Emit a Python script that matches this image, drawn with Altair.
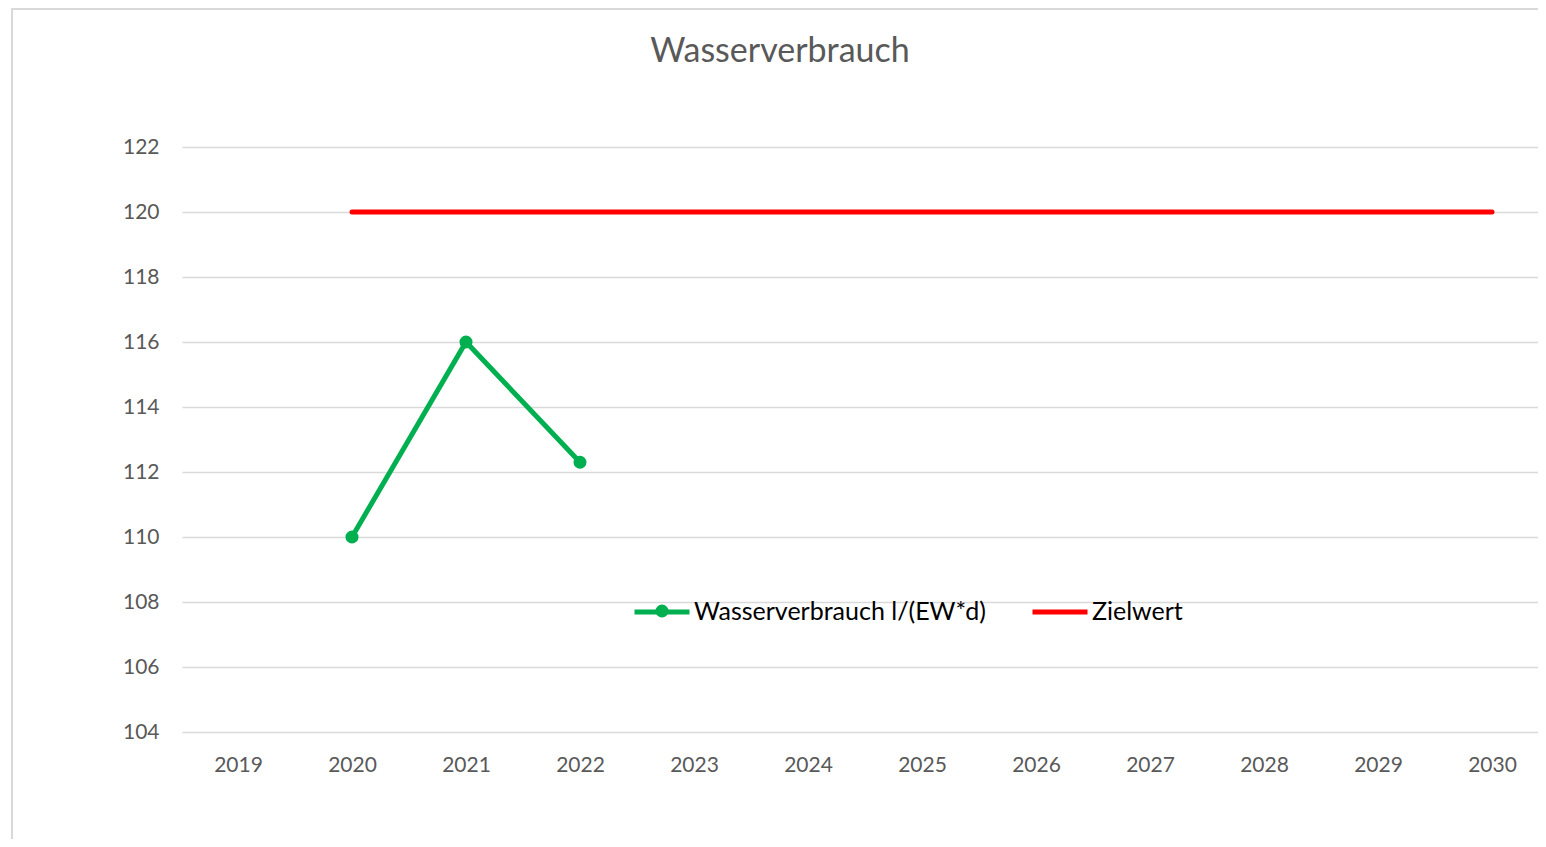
import altair as alt
import pandas as pd

years = ["2019", "2020", "2021", "2022", "2023", "2024", "2025", "2026", "2027", "2028", "2029", "2030"]
verbrauch_years = ["2020", "2021", "2022"]
verbrauch_values = [110.0, 116.0, 112.3]
ziel_years = ["2020", "2021", "2022", "2023", "2024", "2025", "2026", "2027", "2028", "2029", "2030"]
ziel_values = [120] * 11
y_ticks = [104, 106, 108, 110, 112, 114, 116, 118, 120, 122]
series_names = ["Wasserverbrauch l/(EW*d)", "Zielwert"]
series_colors = ["#00B050", "#FF0000"]
title_text = "Wasserverbrauch"

FONT = "Lato"
W, H = 1357, 585
PL, PT = 173, 139  # plot origin lands at (181,147)

df = pd.concat([
    pd.DataFrame({"Jahr": verbrauch_years, "Wert": verbrauch_values, "Serie": series_names[0]}),
    pd.DataFrame({"Jahr": ziel_years, "Wert": ziel_values, "Serie": series_names[1]}),
])

x_enc = alt.X("Jahr:O", scale=alt.Scale(domain=years, padding=0.5, range=[0, 1368]),
              axis=alt.Axis(title=None, labelAngle=0, ticks=False, domain=False, grid=False,
                            labelFontSize=21, labelColor="#595959", labelFont=FONT, labelPadding=22))
y_enc = alt.Y("Wert:Q", scale=alt.Scale(domain=[104, 122], nice=False, zero=False),
              axis=alt.Axis(title=None, values=y_ticks, ticks=False, domain=False, grid=True,
                            gridColor="#D9D9D9", gridWidth=1.5, labelFontSize=21,
                            labelColor="#595959", labelFont=FONT, labelPadding=22))
color_enc = alt.Color("Serie:N", scale=alt.Scale(domain=series_names, range=series_colors),
                      legend=alt.Legend(title=None, orient="none", legendX=451, legendY=435,
                                        direction="horizontal", symbolType="stroke",
                                        symbolStrokeWidth=5, symbolSize=3025, labelFontSize=25,
                                        labelFont=FONT, labelColor="#000000", labelLimit=400,
                                        labelOffset=2, columnPadding=36, padding=0))

base = alt.Chart(df)
lines = base.mark_line(strokeWidth=5, strokeCap="round").encode(x=x_enc, y=y_enc, color=color_enc, detail="Serie:N")
pts = base.transform_filter(alt.datum.Serie == series_names[0]).mark_point(
    filled=True, size=170, opacity=1).encode(x=x_enc, y=y_enc, color=color_enc)

one = alt.Chart(pd.DataFrame({"t": [title_text]}))
title = one.mark_text(fontSize=34, font=FONT, color="#595959", align="center", baseline="middle").encode(
    text="t:N", x=alt.value(599), y=alt.value(-95))
legdot = one.mark_point(filled=True, size=170, opacity=1, color=series_colors[0]).encode(
    x=alt.value(481), y=alt.value(464))
border_left = one.mark_rule(color="#D9D9D9", strokeWidth=2).encode(
    x=alt.value(-169), y=alt.value(-142), y2=alt.value(700))
border_top = one.mark_rule(color="#D9D9D9", strokeWidth=2).encode(
    x=alt.value(-169), x2=alt.value(1400), y=alt.value(-138))
cover = one.mark_rule(color="white", strokeWidth=3).encode(
    x=alt.value(0), y=alt.value(-1), y2=alt.value(586))

chart = alt.layer(border_left, border_top, lines, pts, cover, legdot, title).properties(
    width=W, height=H,
    autosize=alt.AutoSizeParams(type="none"),
    padding={"left": PL, "top": PT, "right": 0, "bottom": 107},
).configure_view(strokeWidth=0, stroke="transparent").configure_axis(
    domain=False
).configure(background="white")

chart.save("out.html", embed_options={"renderer": "svg", "actions": False})
